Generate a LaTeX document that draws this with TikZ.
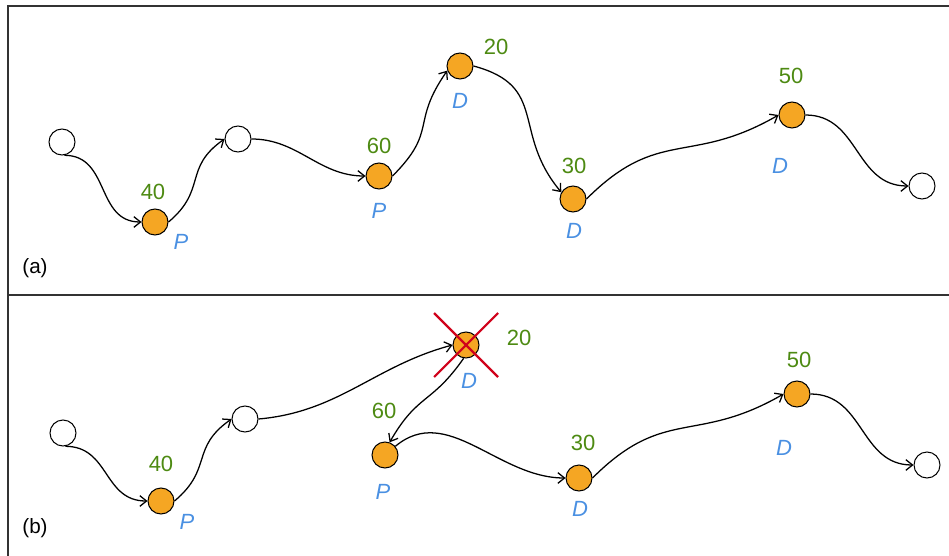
\documentclass[tikz,border=0pt]{standalone}
\usepackage{fontspec}
\setmainfont{Liberation Sans}
\usetikzlibrary{arrows.meta}
\definecolor{orng}{HTML}{F5A623}
\definecolor{grn}{HTML}{4D8A12}
\definecolor{blu}{HTML}{4A90E2}
\definecolor{crossred}{HTML}{D0021B}
\definecolor{framecol}{HTML}{333333}
\begin{document}
\begin{tikzpicture}[x=0.75pt,y=-0.75pt,
 wnode/.style={circle,draw=black,fill=white,line width=0.75pt,minimum size=19.5pt,inner sep=0pt},
 onode/.style={wnode,fill=orng},
 num/.style={text=grn,font=\fontsize{16.5}{19}\selectfont},
 typ/.style={text=blu,font=\fontsize{16.5}{19}\selectfont\itshape},
 flow/.style={draw=black,line width=0.95pt,-{Straight Barb[length=5pt,width=8pt]}},
 panel/.style={font=\fontsize{15.5}{18}\selectfont},
 framestyle/.style={draw=framecol,line width=1.2pt},
 xmark/.style={draw=crossred,line width=1.6pt}]

\useasboundingbox (0,0) rectangle (949,556);
\draw[framestyle] (949,6) -- (8,6) -- (8,556);
\draw[framestyle] (8,295) -- (949,295);

% ---------- panel (a) ----------
\node[panel] (pa) at (35,268) {(a)};
\node[wnode] (a1) at (62,142) {};
\node[onode] (a40) at (155,222) {};
\node[wnode] (a2) at (238,139) {};
\node[onode] (a60) at (379,176) {};
\node[onode] (a20) at (460,66) {};
\node[onode] (a30) at (573,199) {};
\node[onode] (a50) at (792,115) {};
\node[wnode] (a3) at (922,186) {};

\node[num] (la40) at (153,192) {40};
\node[typ] (ta40) at (181,242) {P};
\node[num] (la60) at (379,146) {60};
\node[typ] (ta60) at (379,211) {P};
\node[num] (la20) at (496,47) {20};
\node[typ] (ta20) at (460,101) {D};
\node[num] (la30) at (574,166) {30};
\node[typ] (ta30) at (574,231) {D};
\node[num] (la50) at (791,76) {50};
\node[typ] (ta50) at (780,166) {D};

\draw[flow] (a1.-80) to[out=0,in=180,looseness=1.15] (a40.west);
\draw[flow] (a40.east) to[out=40,in=215,looseness=1.3] (a2.west);
\draw[flow] (a2.east) to[out=0,in=180] (a60.west);
\draw[flow] (a60.east) to[out=45,in=235,looseness=1.4] (a20.200);
\draw[flow] (a20.east) to[out=-15,in=130,looseness=1.3] (a30.150);
\draw[flow] (a30.east) to[out=45,in=210,looseness=1.25] (a50.west);
\draw[flow] (a50.east) to[out=0,in=180,looseness=1.1] (a3.west);

% ---------- panel (b) ----------
\node[panel] (pb) at (35,528) {(b)};
\node[wnode] (b1) at (63,433) {};
\node[onode] (b40) at (161,501) {};
\node[wnode] (b2) at (245,419) {};
\node[onode] (b20) at (466,345) {};
\node[onode] (b60) at (385,455) {};
\node[onode] (b30) at (579,478) {};
\node[onode] (b50) at (797,394) {};
\node[wnode] (b3) at (927,465) {};

\node[num] (lb40) at (161,464) {40};
\node[typ] (tb40) at (187,522) {P};
\node[num] (lb20) at (519,338) {20};
\node[typ] (tb20) at (469,381) {D};
\node[num] (lb60) at (384,411) {60};
\node[typ] (tb60) at (383,492) {P};
\node[num] (lb30) at (583,443) {30};
\node[typ] (tb30) at (580,509) {D};
\node[num] (lb50) at (799,360) {50};
\node[typ] (tb50) at (784,448) {D};

\draw[flow] (b1.-80) to[out=0,in=180,looseness=1.15] (b40.west);
\draw[flow] (b40.east) to[out=40,in=215,looseness=1.3] (b2.west);
\draw[flow] (b2.east) to[out=5,in=195] (b20.west);
\draw[flow] (b20.-100) to[out=235,in=60,looseness=1.3] (b60.70);
\draw[flow] (b60.40) to[out=40,in=180,looseness=1] (b30.west);
\draw[flow] (b30.east) to[out=45,in=210,looseness=1.25] (b50.west);
\draw[flow] (b50.east) to[out=0,in=180,looseness=1.1] (b3.west);

\coordinate (x1) at (434,313);
\coordinate (x2) at (498,377);
\coordinate (x3) at (498,313);
\coordinate (x4) at (434,377);
\draw[xmark] (x1) -- (x2);
\draw[xmark] (x3) -- (x4);
\end{tikzpicture}
\end{document}
